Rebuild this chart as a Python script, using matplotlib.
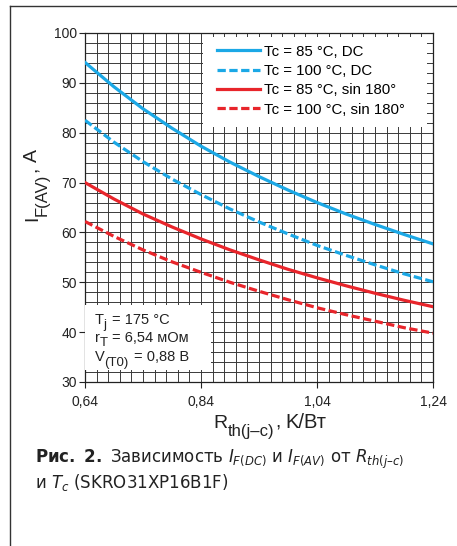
import matplotlib
matplotlib.use("Agg")
import matplotlib.pyplot as plt
from matplotlib.patches import Rectangle
from matplotlib.lines import Line2D
from matplotlib.ticker import MultipleLocator, FixedLocator

plt.rcParams['font.family'] = ['Liberation Sans', 'DejaVu Sans']
plt.rcParams['mathtext.fontset'] = 'custom'
plt.rcParams['mathtext.rm'] = 'DejaVu Sans'
plt.rcParams['mathtext.it'] = 'DejaVu Sans:italic'
plt.rcParams['mathtext.bf'] = 'DejaVu Sans:bold'

# values
rth = [0.64, 0.69, 0.74, 0.79, 0.84, 0.89, 0.94, 0.99, 1.04, 1.09, 1.14, 1.19, 1.24]
i_dc_85 = [94.1, 89.2, 84.8, 80.9, 77.3, 74.1, 71.2, 68.5, 66.0, 63.7, 61.6, 59.6, 57.7]
i_dc_100 = [82.5, 78.1, 74.2, 70.7, 67.6, 64.7, 62.1, 59.7, 57.4, 55.4, 53.5, 51.7, 50.1]
i_sin_85 = [70.0, 66.7, 63.7, 61.1, 58.7, 56.5, 54.5, 52.6, 50.9, 49.3, 47.8, 46.4, 45.1]
i_sin_100 = [62.2, 59.2, 56.5, 54.1, 52.0, 50.0, 48.2, 46.5, 44.9, 43.5, 42.2, 40.9, 39.8]

series_labels = ['Tc = 85 °C, DC', 'Tc = 100 °C, DC',
                 'Tc = 85 °C, sin 180°', 'Tc = 100 °C, sin 180°']
x_ticks = [0.64, 0.84, 1.04, 1.24]
x_tick_labels = ['0,64', '0,84', '1,04', '1,24']
y_ticks = [30, 40, 50, 60, 70, 80, 90, 100]

blue = '#1ba8e6'
red = '#e8252b'
ink = '#222222'

W, H = 457, 546
fig = plt.figure(figsize=(W / 100, H / 100), dpi=100)
ax = fig.add_axes([85 / W, 1 - 382 / H, 348 / W, 349 / H])

dash = (2.6, 1.1)
ax.plot(rth, i_dc_85, color=blue, lw=2.3, label=series_labels[0], zorder=5)
ax.plot(rth, i_dc_100, color=blue, lw=2.3, dashes=dash, label=series_labels[1], zorder=5)
ax.plot(rth, i_sin_85, color=red, lw=2.3, label=series_labels[2], zorder=5)
ax.plot(rth, i_sin_100, color=red, lw=2.3, dashes=dash, label=series_labels[3], zorder=5)

ax.set_xlim(0.64, 1.24)
ax.set_ylim(30, 100)
ax.xaxis.set_major_locator(FixedLocator(x_ticks))
ax.set_xticklabels(x_tick_labels)
ax.xaxis.set_minor_locator(MultipleLocator(0.02))
ax.yaxis.set_major_locator(FixedLocator(y_ticks))
ax.yaxis.set_minor_locator(MultipleLocator(2))
ax.tick_params(which='major', length=4, width=0.8, color=ink, labelsize=10,
               labelcolor=ink)
ax.tick_params(axis='y', pad=2)
ax.tick_params(axis='x', pad=5)
ax.tick_params(which='minor', length=0)
ax.grid(which='both', color='#3a3a3a', lw=0.7)
ax.set_axisbelow(True)
for s in ax.spines.values():
    s.set_linewidth(0.9)
    s.set_color(ink)

# white boxes over the grid
ax.add_patch(Rectangle((0.339, 0.731), 0.644, 0.2575, transform=ax.transAxes,
                       facecolor='white', edgecolor='none', zorder=3))
ax.add_patch(Rectangle((0.0, 0.034), 0.362, 0.187, transform=ax.transAxes,
                       facecolor='white', edgecolor='none', zorder=3))

leg = ax.legend(loc='upper left', bbox_to_anchor=(0.379, 0.967), frameon=False,
                fontsize=10.8, handlelength=2.85, handletextpad=0.3,
                labelspacing=0.36, borderpad=0, borderaxespad=0)
leg.set_zorder(6)

renderer = fig.canvas.get_renderer()


def chain(x, y, pieces, rotation=0):
    # pieces: (text, size, drop below baseline in px, gap before in px); x, y from top-left
    for s, size, drop, gap in pieces:
        if rotation == 0:
            x += gap
            t = fig.text(x / W, 1 - (y + drop) / H, s, fontsize=size, ha='left',
                         va='baseline', color=ink, zorder=6)
            x += t.get_window_extent(renderer).width
        else:
            y -= gap
            t = fig.text((x + drop) / W, 1 - y / H, s, fontsize=size, rotation=90,
                         rotation_mode='anchor', ha='left', va='baseline',
                         color=ink, zorder=6)
            y -= t.get_window_extent(renderer).height


chain(95, 324, [('T', 10.5, 0, 0), ('j', 9.5, 4, -0.5), ('= 175 °C', 10.5, 0, 5)])
chain(95, 342, [('r', 10.5, 0, 0), ('T', 9.5, 4, -0.5), ('= 6,54 мОм', 10.5, 0, 5)])
chain(95, 361, [('V', 10.5, 0, 0), ('(T0)', 9.5, 5, -0.5), ('= 0,88 В', 10.5, 0, 5)])

chain(213, 428, [('R', 14, 0, 0), ('th(j–c)', 12, 8, 0.5), (',', 14, 0, 1),
                 ('K/Вт', 14.5, 0, 5)])
chain(37, 221, [('I', 14, 0, 0), ('F(AV)', 12, 10, 0), (',', 14, 0, 1),
                ('A', 14, 0, 5)], rotation=90)

fig.text(35 / W, 1 - 463 / H,
         r'$\mathbf{Рис.\ 2.}$ Зависимость $\mathit{I}_{\mathit{F(DC)}}$ и '
         r'$\mathit{I}_{\mathit{F(AV)}}$ от $\mathit{R}_{\mathit{th(j–c)}}$',
         family='DejaVu Sans', fontsize=12, va='baseline', color=ink)
fig.text(35 / W, 1 - 488 / H, r'и $\mathit{T}_{\mathit{c}}$ (SKRO31XP16B1F)',
         family='DejaVu Sans', fontsize=12, va='baseline', color=ink)

# page frame (top and left rules)
fig.add_artist(Line2D([10 / W, 1], [1 - 6 / H, 1 - 6 / H], transform=fig.transFigure,
                      color='#333', lw=1))
fig.add_artist(Line2D([10 / W, 10 / W], [0, 1 - 6 / H], transform=fig.transFigure,
                      color='#333', lw=1))

fig.savefig('out.png', dpi=100)
